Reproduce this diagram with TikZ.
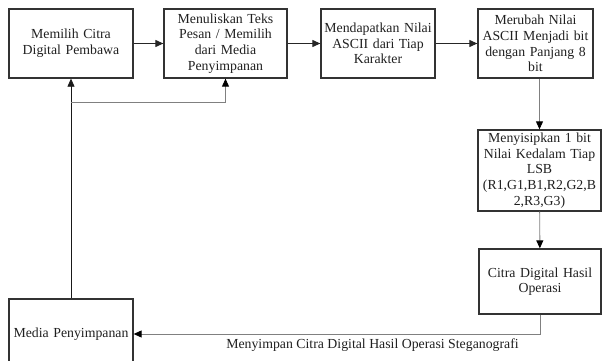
\documentclass[tikz,border=0pt]{standalone}
\usepackage{fontspec}
\setmainfont{Liberation Serif}
\usetikzlibrary{arrows.meta}
\begin{document}
\begin{tikzpicture}[x=1pt,y=-1pt,
  box/.style={draw=black!80,line width=1.3pt,rectangle,align=center,inner sep=1pt,
    font=\fontsize{13.8}{15.6}\selectfont,text=black!88},
  arr/.style={line width=1.1pt,draw=black!85,-{Triangle[length=8pt,width=7pt]}},
  farr/.style={line width=0.8pt,draw=black!90,-{Triangle[length=8pt,width=7pt]}},
  garr/.style={line width=0.9pt,draw=black!50,-{Triangle[length=8pt,width=7pt,color=black,fill=black]}},
  lbl/.style={font=\fontsize{13.8}{15.6}\selectfont,text=black!88,inner sep=0pt}]
\useasboundingbox (0,0) rectangle (602,361);
\clip (0,0) rectangle (602,361);
\node[box,minimum width=124pt,minimum height=69pt,text width=120pt] (b1) at (71,43.5) {Memilih Citra\\Digital Pembawa};
\node[box,minimum width=123pt,minimum height=69pt,text width=119pt] (b2) at (225.5,43.5) {Menuliskan Teks\\Pesan / Memilih\\dari Media\\Penyimpanan};
\node[box,minimum width=114pt,minimum height=69pt,text width=112pt] (b3) at (378,43.5) {Mendapatkan Nilai\\ASCII dari Tiap\\Karakter};
\node[box,minimum width=115pt,minimum height=69pt,text width=113pt] (b4) at (535.5,43.5) {Merubah Nilai\\ASCII Menjadi bit\\dengan Panjang 8\\bit};
\node[box,minimum width=123pt,minimum height=81pt,text width=121pt] (b5) at (539.5,170.5) {Menyisipkan 1 bit\\Nilai Kedalam Tiap\\LSB\\(R1,G1,B1,R2,G2,B\\2,R3,G3)};
\node[box,minimum width=122pt,minimum height=65pt,text width=120pt] (b6) at (540,281.5) {Citra Digital Hasil\\Operasi};
\node[box,minimum width=124pt,minimum height=70pt,text width=122pt] (m) at (71,334) {Media Penyimpanan};
\node[lbl] (t) at (372.5,345) {Menyimpan Citra Digital Hasil Operasi Steganografi};
\draw[arr] (b1) -- (b2);
\draw[arr] (b2) -- (b3);
\draw[arr] (b3) -- (b4);
\draw[garr] (b4.south -| b5.north) -- (b5.north);
\draw[garr] (b5) -- (b6);
\draw[garr] (b6.south) |- (m.east);
\draw[farr] (m.north -| b1.south) -- (b1.south);
\coordinate (j) at (71,102);
\draw[garr] (j) -| (b2.south);
\end{tikzpicture}
\end{document}
